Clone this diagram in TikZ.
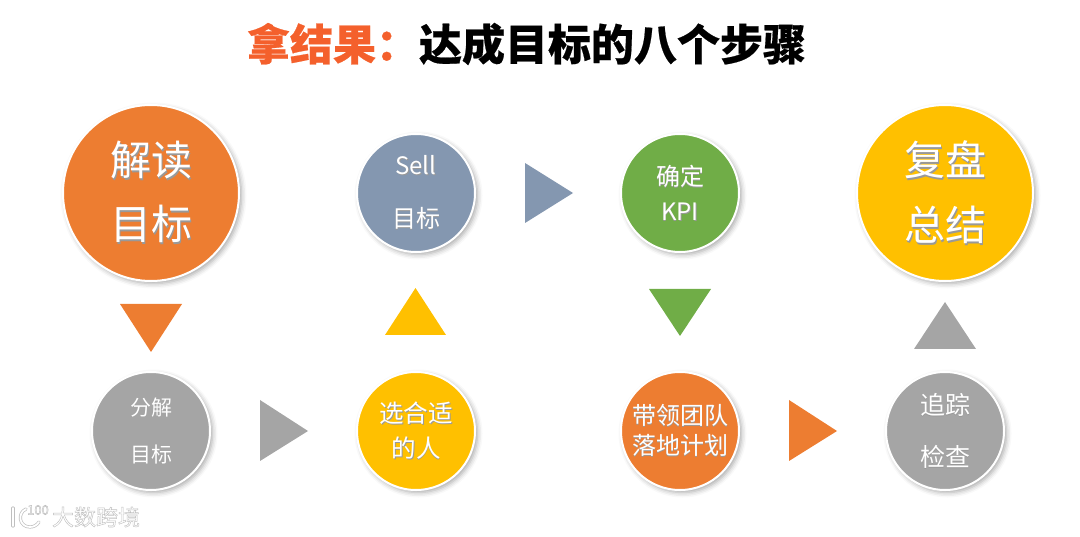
\documentclass[tikz,border=0pt]{standalone}
\usepackage{fontspec}
\setmainfont{Noto Sans CJK SC}
\usetikzlibrary{shadows.blur}
\definecolor{cOrange}{HTML}{ED7D31}
\definecolor{cSlate}{HTML}{8497B0}
\definecolor{cGreen}{HTML}{70AD47}
\definecolor{cYellow}{HTML}{FFC000}
\definecolor{cGray}{HTML}{A5A5A5}
\definecolor{cTitle}{HTML}{F4602C}
\newcommand{\shd}[1]{\leavevmode\rlap{\kern.035em\raisebox{-.035em}{\color{black!40}#1}}#1}
\newcommand{\fs}[2]{\fontsize{#1}{#2}\selectfont}
\newcommand{\outl}[1]{\special{pdf:code 1 Tr 0.45 w}#1\special{pdf:code 0 Tr 1 w}}
\tikzset{
  bubble/.style={circle, draw=white, line width=2pt, text=white, align=center, inner sep=0pt,
    blur shadow={shadow xshift=2.5pt, shadow yshift=-2.5pt, shadow blur radius=5pt, shadow opacity=35}},
  big/.style={bubble, minimum size=176pt},
  small/.style={bubble, minimum size=118pt},
  logoline/.style={draw=black!25, line width=0.7pt, double=white, double distance=1.8pt, line cap=round},
}
\begin{document}
\begin{tikzpicture}[x=1pt, y=-1pt]
  \useasboundingbox (0,0) rectangle (1080,537);
  % 标题
  \node (title) at (526.5,44) {\fs{43}{50}\bfseries\addfontfeature{FakeBold=0.5}\color{cTitle}拿结果：\color{black}达成目标的八个步骤};
  % 上排
  \node[big, fill=cOrange, font=\fs{41}{64}] (read) at (151,193) {\shd{解读}\\\shd{目标}};
  \node[small, fill=cSlate, font=\fs{24}{53}] (sell) at (416,193) {\shd{Sell}\\\shd{目标}};
  \node[small, fill=cGreen, font=\fs{24}{35}] (kpi) at (680,193) {\shd{确定}\\\shd{KPI}};
  \node[big, fill=cYellow, font=\fs{41}{65}] (review) at (945,193) {\shd{复盘}\\\shd{总结}};
  % 下排
  \node[small, fill=cGray, font=\fs{21}{47}] (split) at (151,431) {\shd{分解}\\\shd{目标}};
  \node[small, fill=cYellow, font=\fs{24.5}{35}] (people) at (416,431) {\shd{选合适}\\\shd{的人}};
  \node[small, fill=cOrange, font=\fs{24}{30}] (team) at (680,431) {\shd{带领团队}\\\shd{落地计划}};
  \node[small, fill=cGray, font=\fs{25}{52}] (track) at (945,431) {\shd{追踪}\\\shd{检查}};
  % 三角形
  \fill[cOrange] (120,304) -- (182,304) -- (151,352) -- cycle;
  \fill[cGray] (260,400) -- (308,431) -- (260,461) -- cycle;
  \fill[cYellow] (385,335) -- (446,335) -- (415.5,288) -- cycle;
  \fill[cSlate] (525,163) -- (573,193) -- (525,223) -- cycle;
  \fill[cGreen] (649,289) -- (711,289) -- (680,336) -- cycle;
  \fill[cOrange] (789,400) -- (837,431) -- (789,461) -- cycle;
  \fill[cGray] (914,349) -- (976,349) -- (945,302) -- cycle;
  % 水印
  \node (mark) at (96,517) {\fs{22}{28}\color{black!25}\outl{大数跨境}};
  \draw[logoline] (13,508) -- (13,526);
  \draw[logoline] (26,509) .. controls (17,513) and (19,527) .. (30,527) .. controls (34,527) and (37,525) .. (39,522);
  \node (hundred) at (38,510) {\fs{13}{14}\color{black!25}\outl{100}};
\end{tikzpicture}
\end{document}
